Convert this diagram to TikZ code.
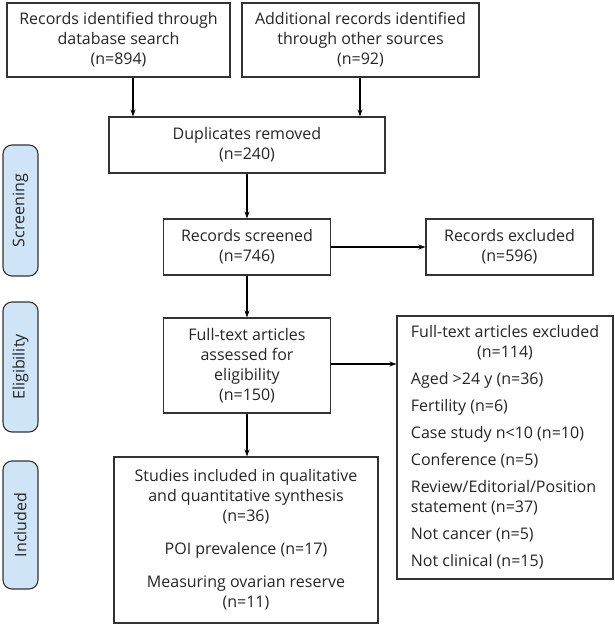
\documentclass[tikz,border=0pt]{standalone}
\usepackage{fontspec}
\setmainfont{Open Sans}
\usetikzlibrary{arrows.meta}
\begin{document}
\begin{tikzpicture}[
  every node/.style={font=\fontsize{16}{20}\selectfont, text=black!85},
  box/.style={draw=black!80, line width=1.1pt, align=center, inner sep=0pt, fill=white},
  side/.style={draw=black!80, line width=1.1pt, fill=sideblue, rounded corners=9pt, inner sep=0pt, minimum height=35pt},
  arr/.style={line width=1.6pt, draw=black, -{Stealth[length=7pt,width=5pt]}},
]
\definecolor{sideblue}{HTML}{CFE5F7}
\useasboundingbox (0,0) rectangle (615pt,-625pt);
% main boxes
\node[box, minimum width=223pt, minimum height=74pt] (b1) at (118.5pt,-40pt)
  {Records identified through\\database search\\(n=894)};
\node[box, minimum width=237pt, minimum height=74pt] (b2) at (360.5pt,-40pt)
  {Additional records identified\\through other sources\\(n=92)};
\node[box, minimum width=276pt, minimum height=56pt] (dup) at (247pt,-145pt)
  {Duplicates removed\\(n=240)};
\node[box, minimum width=167pt, minimum height=56pt] (scr) at (247pt,-247pt)
  {Records screened\\(n=746)};
\node[box, minimum width=167pt, minimum height=56pt] (exc) at (509.5pt,-247pt)
  {Records excluded\\(n=596)};
\node[box, minimum width=167pt, minimum height=95pt] (ft) at (247pt,-365.5pt)
  {Full-text articles\\assessed for\\eligibility\\(n=150)};
\node[box, minimum width=216pt, minimum height=263pt] (fte) at (505pt,-447.5pt)
  {\begin{tabular}{@{}l@{}}
   \multicolumn{1}{@{}c@{}}{Full-text articles excluded}\\
   \multicolumn{1}{@{}c@{}}{(n=114)}\\[7pt]
   Aged {>}24 y (n=36)\\[7pt]
   Fertility (n=6)\\[7pt]
   Case study n{<}10 (n=10)\\[7pt]
   Conference (n=5)\\[7pt]
   Review/Editorial/Position\\
   statement (n=37)\\[7pt]
   Not cancer (n=5)\\[7pt]
   Not clinical (n=15)
   \end{tabular}};
\node[box, minimum width=264pt, minimum height=166pt] (inc) at (246pt,-540pt)
  {Studies included in qualitative\\and quantitative synthesis\\(n=36)\\[13pt]
   POI prevalence (n=17)\\[13pt]
   Measuring ovarian reserve\\(n=11)};
% side labels
\node[side, minimum width=131pt, rotate=90] (s1) at (20.5pt,-210.5pt) {Screening};
\node[side, minimum width=130pt, rotate=90] (s2) at (20.5pt,-367pt) {Eligibility};
\node[side, minimum width=128pt, rotate=90] (s3) at (20.5pt,-525pt) {Included};
% connectors
\draw[arr] ([xshift=14.5pt]b1.south) -- ([xshift=14.5pt]b1.south |- dup.north);
\draw[arr] ([xshift=-0.5pt]b2.south) -- ([xshift=-0.5pt]b2.south |- dup.north);
\draw[arr] (dup.south) -- (dup.south |- scr.north);
\draw[arr] (scr.east) -- (exc.west);
\draw[arr] (scr.south) -- (ft.north);
\draw[arr] ([yshift=1.5pt]ft.east) -- ([yshift=1.5pt]ft.east -| fte.west);
\draw[arr] (ft.south) -- (ft.south |- inc.north);
\end{tikzpicture}
\end{document}
